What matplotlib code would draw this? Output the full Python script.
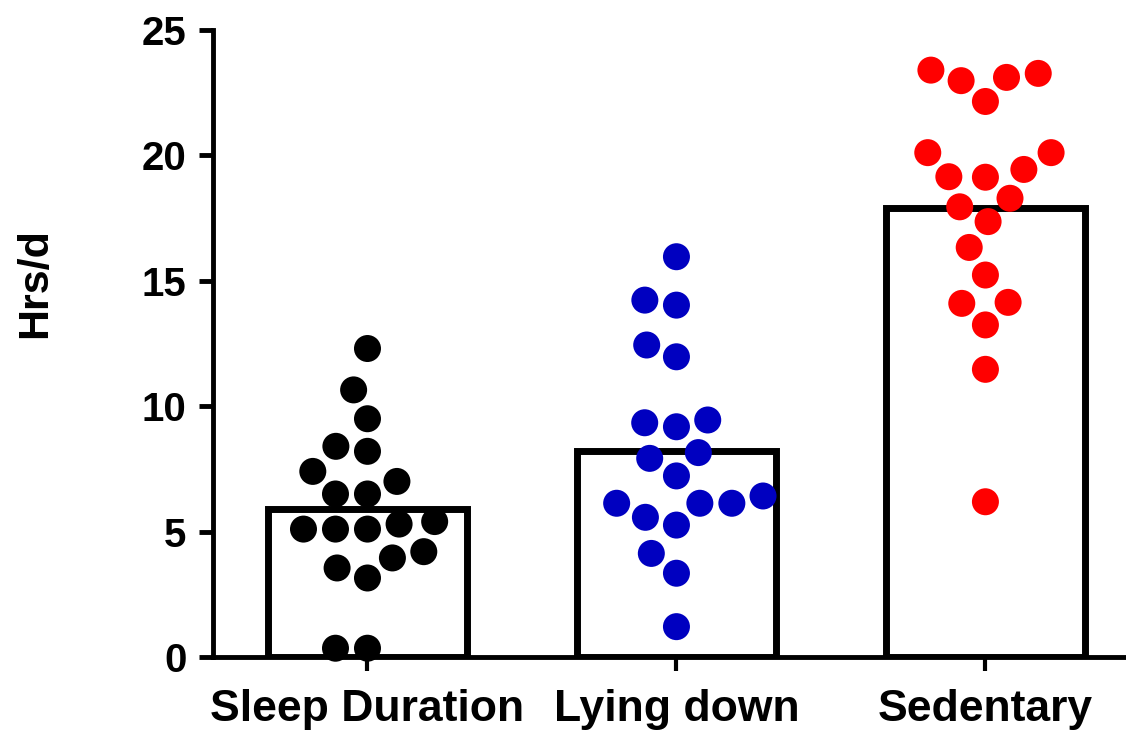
import matplotlib
matplotlib.use("Agg")
import matplotlib.pyplot as plt
import numpy as np

# data (hours per day)
categories = ["Sleep Duration", "Lying down", "Sedentary"]
bar_values = [5.9, 8.2, 17.9]

sleep_hrs = [12.3, 10.65, 9.5, 8.4, 8.2, 7.4, 7.0, 6.5, 6.5, 5.4,
             5.1, 5.1, 5.1, 5.3, 4.2, 3.95, 3.55, 3.15, 0.35, 0.35]
lying_hrs = [15.96, 14.03, 14.23, 12.44, 11.97, 9.45, 9.18, 9.34, 7.92, 8.15,
             7.22, 6.13, 6.13, 6.13, 6.42, 5.57, 5.26, 4.13, 3.34, 1.21]
sedentary_hrs = [23.4, 23.11, 22.15, 22.98, 23.27, 20.11, 20.11, 19.15, 19.13, 19.44,
                 18.29, 17.95, 17.36, 16.33, 15.23, 14.14, 14.10, 13.24, 11.47, 6.19]

groups = [sleep_hrs, lying_hrs, sedentary_hrs]
colors = ["black", "#0000c0", "#ff0000"]

W, H, DPI = 1126, 736, 100
fig = plt.figure(figsize=(W / DPI, H / DPI), dpi=DPI)
ax = fig.add_axes([213 / W, 79 / H, (W - 213) / W, 627 / H])

ax.set_xlim(-0.5, 2.455)
ax.set_ylim(0, 25)


def swarm(values, diam, xscale, yscale):
    # place points beside each other (pixel space) so that they do not overlap
    ys = np.array(values) * yscale
    order = np.argsort(ys)
    placed = []
    offs = np.zeros(len(ys))
    for i in order:
        y = ys[i]
        cands = [0.0]
        for (px, py) in placed:
            dy = abs(py - y)
            if dy < diam:
                dx = np.sqrt(diam ** 2 - dy ** 2)
                cands += [px + dx, px - dx]
        cands.sort(key=lambda c: (abs(c), c))
        for c in cands:
            ok = all((c - px) ** 2 + (y - py) ** 2 >= diam ** 2 - 1e-6 for (px, py) in placed)
            if ok:
                offs[i] = c
                placed.append((c, y))
                break
    return offs / xscale


# pixels per data unit
xscale = (W - 213) / (2.455 + 0.5)
yscale = 627 / 25
dot = 27      # drawn dot diameter, px
spacing = 32  # spacing used when spreading the dots, px

bar_w = 0.645
ax.bar(range(3), bar_values, width=bar_w, facecolor="white", edgecolor="black",
       linewidth=5, zorder=2)

for i, (vals, c) in enumerate(zip(groups, colors)):
    dx = swarm(vals, spacing, xscale, yscale)
    ax.scatter(i + dx, vals, s=(dot * 72 / DPI) ** 2, color=c, edgecolors="none",
               zorder=3, clip_on=False)

ax.spines["top"].set_visible(False)
ax.spines["right"].set_visible(False)
ax.spines["left"].set_linewidth(3.5)
ax.spines["bottom"].set_linewidth(3.5)
ax.spines["left"].set_bounds(0, 25)

ax.set_yticks([0, 5, 10, 15, 20, 25])
ax.set_xticks(range(3))
ax.set_xticklabels(categories)
ax.tick_params(axis="y", length=10, width=3.5, pad=9, labelsize=29)
ax.tick_params(axis="x", length=10, width=3, pad=13, labelsize=32)
for lbl in ax.get_xticklabels() + ax.get_yticklabels():
    lbl.set_fontfamily("Liberation Sans")
    lbl.set_fontweight("bold")

fig.text(35 / W, 1 - 283 / H, "Hrs/d", rotation=90, ha="center", va="center",
         fontsize=31, fontweight="bold", fontfamily="Liberation Sans")

fig.savefig("out.png", dpi=DPI)
